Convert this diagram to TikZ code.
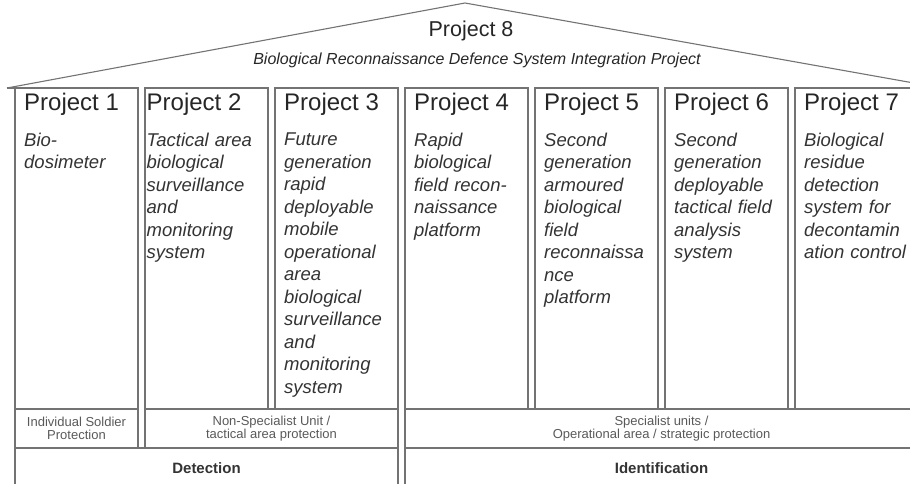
\documentclass[tikz,border=0pt]{standalone}
\usepackage{fontspec}
\setmainfont{Liberation Sans}
\usetikzlibrary{positioning}

\begin{document}
\begin{tikzpicture}[x=1pt,y=-1pt,node distance=7pt,
  colbox/.style={draw=black!55,line width=1.1pt,outer sep=0pt,inner sep=0pt,minimum width=123pt,minimum height=321pt},
  rowbox/.style={draw=black!55,line width=1.1pt,outer sep=0pt,inner sep=0pt,minimum height=39pt,align=center,text=black!65,font=\fontsize{13}{13.5}\selectfont},
  basebox/.style={rowbox,minimum height=40pt,text=black!80,font=\bfseries\fontsize{15}{17}\selectfont},
  projtitle/.style={inner sep=0pt,text=black!85,font=\fontsize{24}{28}\selectfont},
  projtext/.style={inner sep=0pt,text=black!80,align=left,text width=130pt,font=\itshape\fontsize{18.5}{22.5}\selectfont}]

\useasboundingbox (0,0) rectangle (910,484);
\clip (0,0) rectangle (910,484);

% roof
\coordinate (roofL) at (7,88);
\coordinate (apex) at (465,3);
\coordinate (roofR) at (925,85);
\node[anchor=base,text=black!85,font=\fontsize{21.5}{24}\selectfont](p8) at (471,37){Project 8};
\node[anchor=base,text=black!85,font=\itshape\fontsize{16}{18}\selectfont](p8text) at (477,65){Biological Reconnaissance Defence System Integration Project};

% columns
\node[colbox](p1) at (76.5,248.5){};
\node[colbox](p2)[right=of p1]{};
\node[colbox](p3)[right=of p2]{};
\node[colbox](p4)[right=of p3]{};
\node[colbox](p5)[right=of p4]{};
\node[colbox](p6)[right=of p5]{};
\node[colbox](p7)[right=of p6]{};

\node[projtitle](t1)[below right=5pt and 9pt of p1.north west]{Project 1};
\node[projtitle](t2)[below right=5pt and 1.5pt of p2.north west]{Project 2};
\node[projtitle](t3)[below right=5pt and 9pt of p3.north west]{Project 3};
\node[projtitle](t4)[below right=5pt and 9pt of p4.north west]{Project 4};
\node[projtitle](t5)[below right=5pt and 9pt of p5.north west]{Project 5};
\node[projtitle](t6)[below right=5pt and 9pt of p6.north west]{Project 6};
\node[projtitle](t7)[below right=5pt and 9pt of p7.north west]{Project 7};

\node[projtext](d1)[below right=17pt and 0pt of t1.south west]{Bio-\\dosimeter};
\node[projtext](d2)[below right=17pt and 0pt of t2.south west]{Tactical area\\biological\\surveillance\\and\\monitoring\\system};
\node[projtext](d3)[below right=17pt and 0pt of t3.south west]{Future\\generation\\rapid\\deployable\\mobile\\operational\\area\\biological\\surveillance\\and\\monitoring\\system};
\node[projtext](d4)[below right=17pt and 0pt of t4.south west]{Rapid\\biological\\field recon-\\naissance\\platform};
\node[projtext](d5)[below right=17pt and 0pt of t5.south west]{Second\\generation\\armoured\\biological\\field\\reconnaissa\\nce\\platform};
\node[projtext](d6)[below right=17pt and 0pt of t6.south west]{Second\\generation\\deployable\\tactical field\\analysis\\system};
\node[projtext](d7)[below right=17pt and 0pt of t7.south west]{Biological\\residue\\detection\\system for\\decontamin\\ation control};

% protection level
\node[rowbox,minimum width=123pt](soldier)[below right=0pt and 0pt of p1.south west]{Individual Soldier\\Protection};
\node[rowbox,minimum width=253pt](unit)[below right=0pt and 0pt of p2.south west]{Non-Specialist Unit /\\tactical area protection};
\node[rowbox,minimum width=513pt](specialist)[below right=0pt and 0pt of p4.south west]{Specialist units /\\Operational area / strategic protection};

% capability
\node[basebox,minimum width=383pt](detect)[below right=0pt and 0pt of soldier.south west]{Detection};
\node[basebox,minimum width=513pt](ident)[below right=0pt and 0pt of specialist.south west]{Identification};

\draw[draw=black!55,line width=1.1pt](roofL)--(apex)--(roofR);
\draw[draw=black!55,line width=1.1pt](roofL)--(p1.north west);

\end{tikzpicture}
\end{document}
